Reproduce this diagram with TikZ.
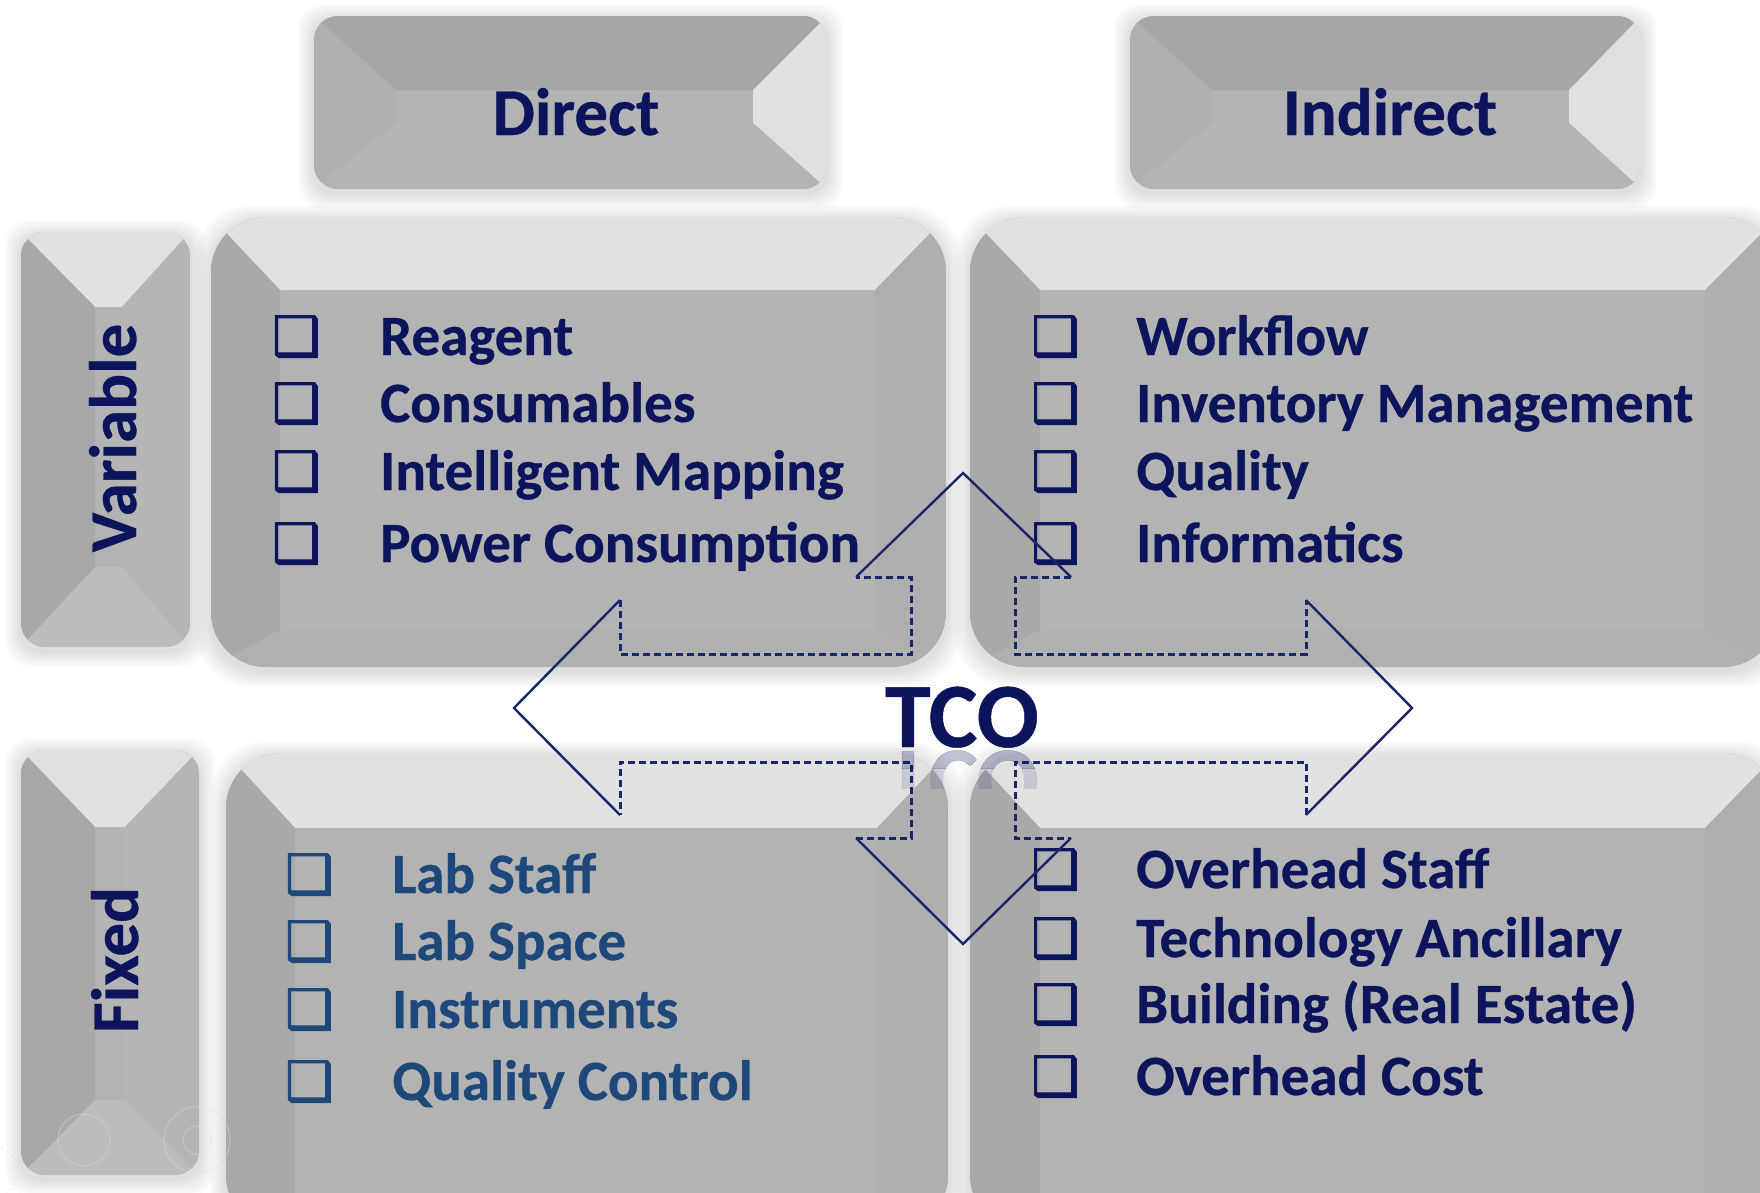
\documentclass[tikz,border=0pt]{standalone}
\usepackage{fontspec}
\setmainfont{Carlito}[BoldFeatures={FakeBold=0.5}]
\newfontfamily\boxglyph{DejaVu Sans}[FakeBold=1.6]

\definecolor{navy}{RGB}{12,20,92}
\definecolor{steel}{RGB}{30,72,122}
\definecolor{arrowc}{RGB}{26,38,104}
\definecolor{ringc}{RGB}{214,222,228}

% shading sets for the bevelled boxes
\tikzset{
  mainshape/.style={rounded corners=55},
  maintop/.style={fill={rgb,255:red,225;green,225;blue,225}},
  mainleft/.style={fill={rgb,255:red,169;green,169;blue,169}},
  mainright/.style={fill={rgb,255:red,175;green,175;blue,175}},
  mainbottom/.style={fill={rgb,255:red,176;green,176;blue,176}},
  mainmid/.style={fill={rgb,255:red,179;green,179;blue,179}},
  hdrshape/.style={rounded corners=24},
  hdrtop/.style={fill={rgb,255:red,166;green,166;blue,166}},
  hdrleft/.style={fill={rgb,255:red,175;green,175;blue,175}},
  hdrright/.style={fill={rgb,255:red,224;green,224;blue,224}},
  hdrbottom/.style={fill={rgb,255:red,180;green,180;blue,180}},
  hdrmid/.style={fill={rgb,255:red,179;green,179;blue,179}},
  sideshape/.style={rounded corners=24},
  sidetop/.style={fill={rgb,255:red,224;green,224;blue,224}},
  sideleft/.style={fill={rgb,255:red,168;green,168;blue,168}},
  sideright/.style={fill={rgb,255:red,181;green,181;blue,181}},
  sidebottom/.style={fill={rgb,255:red,188;green,188;blue,188}},
  sidemid/.style={fill={rgb,255:red,179;green,179;blue,179}},
  item/.style={font=\fontsize{57}{60}\selectfont\bfseries, text=navy, inner sep=0, anchor=base west},
  chk/.style={font=\boxglyph\fontsize{54}{56}\selectfont, text=navy, inner sep=0, anchor=base west},
  hdrtext/.style={font=\fontsize{67}{70}\selectfont\bfseries, text=navy, inner sep=0, anchor=base},
  tcotext/.style={font=\fontsize{92}{96}\selectfont\bfseries, text=navy, inner sep=0, anchor=base},
  shaft/.style={draw=arrowc, line width=3.0, dash pattern=on 7 off 4},
  head/.style={draw=arrowc, line width=2.4},
}

% #1..#4 outer box, #5..#8 inner face, #9 shading set
\newcommand\bevelbox[9]{%
  \foreach \k in {2,4,...,16}{%
    \fill[black,opacity=0.016,#9shape] (#1-\k,#2-\k+4) rectangle (#3+\k,#4+\k+4);}
  \begin{scope}
    \clip[#9shape] (#1,#2) rectangle (#3,#4);
    \fill[#9mid] (#1,#2) rectangle (#3,#4);
    \fill[#9top] (#1,#2) -- (#3,#2) -- (#7,#6) -- (#5,#6) -- cycle;
    \fill[#9left] (#1,#2) -- (#5,#6) -- (#5,#8) -- (#1,#4) -- cycle;
    \fill[#9right] (#3,#2) -- (#3,#4) -- (#7,#8) -- (#7,#6) -- cycle;
    \fill[#9bottom] (#1,#4) -- (#5,#8) -- (#7,#8) -- (#3,#4) -- cycle;
  \end{scope}}

\begin{document}
\begin{tikzpicture}[x=1pt,y=-1pt]
\useasboundingbox (0,0) rectangle (1760,1192);
\fill[white] (0,0) rectangle (1760,1192);
\clip (0,0) rectangle (1760,1192);

% column headers
\bevelbox{314}{16}{827}{189}{396}{90}{753}{123}{hdr}
\bevelbox{1130}{16}{1641}{189}{1212}{90}{1569}{123}{hdr}
\node[hdrtext] (direct) at (576,135) {Direct};
\node[hdrtext] (indirect) at (1390,135) {Indirect};

% row headers
\bevelbox{21}{232}{190}{647}{95}{307}{122}{567}{side}
\bevelbox{21}{750}{199}{1175}{95}{827}{125}{1100}{side}
\node[hdrtext, rotate=90] (variable) at (136,438) {Variable};
\node[hdrtext, rotate=90] (fixed) at (138,960) {Fixed};

% the four cost quadrants
\bevelbox{211}{217}{946}{667}{280}{290}{875}{630}{main}
\bevelbox{970}{217}{1778}{667}{1040}{290}{1705}{630}{main}
\bevelbox{226}{753}{948}{1230}{295}{828}{877}{1195}{main}
\bevelbox{970}{753}{1778}{1230}{1040}{828}{1705}{1195}{main}

% faint ring marks, lower left
\begin{scope}[draw=ringc, line width=1.2, opacity=0.4]
  \draw (197,1140) circle (33);
  \draw (197,1140) circle (14);
  \draw (84,1140) circle (26);
  \draw[dashed] (-8,1172) circle (26);
\end{scope}

% direct / variable
\node[chk] at (272,355) {❑};
\node[item] (reagent) at (380,355) {Reagent};
\node[chk] at (272,422) {❑};
\node[item] (consumables) at (380,422) {Consumables};
\node[chk] at (272,490) {❑};
\node[item] (mapping) at (380,490) {Intelligent Mapping};
\node[chk] at (272,562) {❑};
\node[item] (power) at (380,562) {Power Consumption};

% indirect / variable
\node[chk] at (1031,355) {❑};
\node[item] (workflow) at (1136,355) {Workflow};
\node[chk] at (1031,422) {❑};
\node[item] (inventory) at (1136,422) {Inventory Management};
\node[chk] at (1031,490) {❑};
\node[item] (quality) at (1136,490) {Quality};
\node[chk] at (1031,562) {❑};
\node[item] (informatics) at (1136,562) {Informatics};

% direct / fixed
\node[chk, text=steel] at (285,893) {❑};
\node[item, text=steel] (labstaff) at (392,893) {Lab Staff};
\node[chk, text=steel] at (285,960) {❑};
\node[item, text=steel] (labspace) at (392,960) {Lab Space};
\node[chk, text=steel] at (285,1028) {❑};
\node[item, text=steel] (instruments) at (392,1028) {Instruments};
\node[chk, text=steel] at (285,1100) {❑};
\node[item, text=steel] (qc) at (392,1100) {Quality Control};

% indirect / fixed
\node[chk] at (1031,888) {❑};
\node[item] (ohstaff) at (1136,888) {Overhead Staff};
\node[chk] at (1031,957) {❑};
\node[item] (ancillary) at (1136,957) {Technology Ancillary};
\node[chk] at (1031,1023) {❑};
\node[item] (building) at (1136,1023) {Building (Real Estate)};
\node[chk] at (1031,1095) {❑};
\node[item] (ohcost) at (1136,1095) {Overhead Cost};

% four-way outline arrow
\coordinate (tipN) at (963,473);
\coordinate (tipE) at (1412,708);
\coordinate (tipS) at (963,944);
\coordinate (tipW) at (514,708);
\coordinate (nL) at (856,577);  \coordinate (nR) at (1071,577);
\coordinate (sL) at (856,838);  \coordinate (sR) at (1071,838);
\coordinate (eT) at (1306,600); \coordinate (eB) at (1306,815);
\coordinate (wT) at (620,600);  \coordinate (wB) at (620,815);
\draw[shaft] (nR) -- (1015,577) -- (1015,654) -- (1306,654) -- (eT);
\draw[shaft] (eB) -- (1306,762) -- (1015,762) -- (1015,838) -- (sR);
\draw[shaft] (sL) -- (911,838) -- (911,762) -- (620,762) -- (wB);
\draw[shaft] (wT) -- (620,654) -- (911,654) -- (911,577) -- (nL);
\draw[head] (nL) -- (tipN) -- (nR);
\draw[head] (eT) -- (tipE) -- (eB);
\draw[head] (sR) -- (tipS) -- (sL);
\draw[head] (wB) -- (tipW) -- (wT);

% centre label with its fading mirror image
\node[tcotext] (tco) at (962,747) {TCO};
\begin{scope}
  \clip (880,749) rectangle (1045,768);
  \node[tcotext, opacity=0.26, yscale=-1] (tcomirrorA) at (962,751) {TCO};
\end{scope}
\begin{scope}
  \clip (880,768) rectangle (1045,788);
  \node[tcotext, opacity=0.12, yscale=-1] (tcomirrorB) at (962,751) {TCO};
\end{scope}
\end{tikzpicture}
\end{document}
